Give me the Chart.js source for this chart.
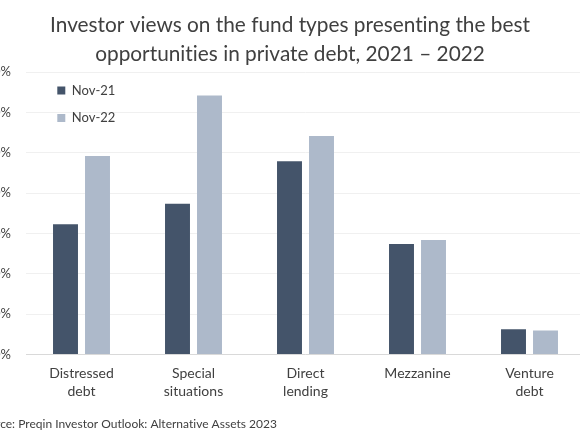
<!DOCTYPE html>
<html>
<head>
<meta charset="utf-8">
<script src="https://cdn.jsdelivr.net/npm/chart.js@4.4.1/dist/chart.umd.min.js"></script>
<style>
  html, body { margin: 0; padding: 0; background: #ffffff; overflow: hidden; width: 580px; height: 435px; }
  #wrap { position: absolute; left: -24px; top: 0; width: 628px; height: 435px; }
</style>
</head>
<body>
<div id="wrap"><canvas id="c" width="628" height="435"></canvas></div>
<script>
// ---- data ----
const categories = [['Distressed', 'debt'], ['Special', 'situations'], ['Direct', 'lending'], 'Mezzanine', ['Venture', 'debt']];
const seriesNames = ['Nov-21', 'Nov-22'];
const nov21 = [32.3, 37.4, 47.9, 27.4, 6.3];
const nov22 = [49.2, 64.2, 54.2, 28.4, 6.0];
const yTickLabels = ['0%', '10%', '20%', '30%', '40%', '50%', '60%', '70%'];
const titleLines = ['Investor views on the fund types presenting the best', 'opportunities in private debt, 2021 \u2013 2022'];
const sourceText = 'Source: Preqin Investor Outlook: Alternative Assets 2023';

const DARK = '#44546A';
const LIGHT = '#ADB9CA';
const TEXT = '#404040';

Chart.defaults.font.family = 'Lato, "Open Sans", sans-serif';
Chart.defaults.color = TEXT;

const legendPlace = {
  id: 'legendPlace',
  beforeDraw(chart) {
    // non-zero letter spacing switches off the "ti" ligature, like the reference font
    if ('letterSpacing' in chart.ctx) chart.ctx.letterSpacing = '0.01px';
  },
  afterLayout(chart) {
    const lg = chart.legend;
    if (!lg) return;
    const w = lg.width, h = lg.height;
    lg.left = chart.chartArea.left + 17.3;
    lg.top = chart.chartArea.top - 2.6;
    lg.right = lg.left + w;
    lg.bottom = lg.top + h;
  }
};

new Chart(document.getElementById('c'), {
  type: 'bar',
  data: {
    labels: categories,
    datasets: [
      { label: seriesNames[0], data: nov21, backgroundColor: DARK, categoryPercentage: 0.5714, barPercentage: 0.78 },
      { label: seriesNames[1], data: nov22, backgroundColor: LIGHT, categoryPercentage: 0.5714, barPercentage: 0.78 }
    ]
  },
  options: {
    responsive: false,
    animation: false,
    devicePixelRatio: 1,
    layout: { padding: 0 },
    plugins: {
      tooltip: { enabled: false },
      title: {
        display: true,
        text: titleLines,
        color: TEXT,
        font: { size: 20.8, weight: '400', lineHeight: 1.375 },
        padding: { top: 11, bottom: 4 }
      },
      subtitle: {
        display: true,
        position: 'bottom',
        align: 'start',
        text: sourceText,
        color: TEXT,
        font: { size: 12, weight: '400', lineHeight: 1.2 },
        padding: { top: 6.3, bottom: 3.8 }
      },
      legend: {
        display: true,
        position: 'chartArea',
        align: 'start',
        labels: {
          boxWidth: 8,
          boxHeight: 8,
          padding: 14.5,
          color: TEXT,
          font: { size: 13 }
        }
      }
    },
    scales: {
      x: {
        grid: { display: false, drawTicks: false },
        border: { display: false },
        ticks: {
          color: TEXT,
          font: { size: 14, lineHeight: 1.31 },
          padding: 9.6,
          maxRotation: 0,
          autoSkip: false
        }
      },
      y: {
        min: 0,
        max: 70,
        border: { display: false },
        grid: {
          drawTicks: false,
          color: (ctx) => (ctx.tick && ctx.tick.value === 0) ? '#d9d9d9' : '#f0f0f0',
          lineWidth: 1
        },
        ticks: {
          stepSize: 10,
          padding: 14.5,
          color: TEXT,
          font: { size: 13 },
          callback: (v, i) => yTickLabels[i]
        },
        afterFit: (s) => { s.width = 49.5; }
      },
      yRight: {
        position: 'right',
        display: true,
        grid: { display: false, drawTicks: false },
        border: { display: false },
        ticks: { display: false },
        afterFit: (s) => { s.width = 18.5; }
      }
    }
  },
  plugins: [legendPlace]
});
</script>
</body>
</html>
